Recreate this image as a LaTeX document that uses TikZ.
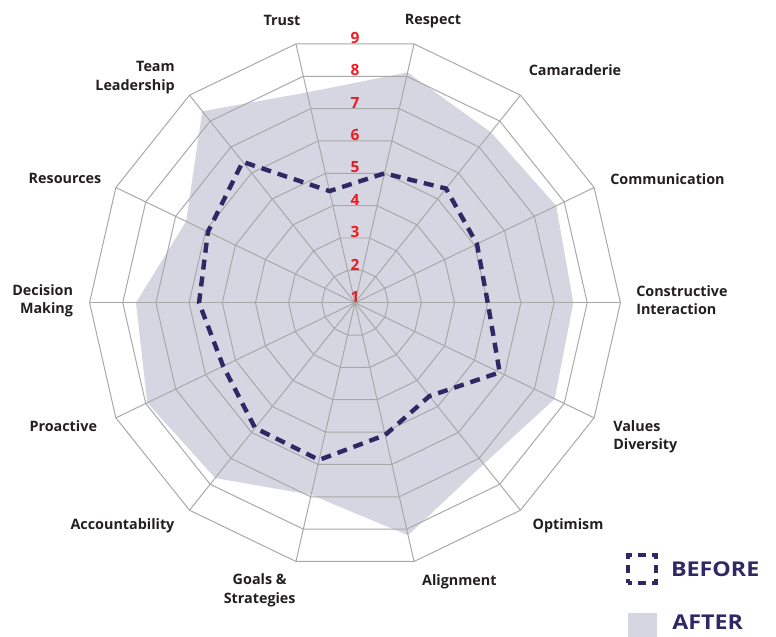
\documentclass[tikz,border=0pt]{standalone}
\usepackage{fontspec}
\setmainfont{Open Sans}
\newfontfamily\keyfont[FakeStretch=1.14]{Open Sans}
\usetikzlibrary{positioning}

\definecolor{gridgray}{RGB}{168,168,168}
\definecolor{afterlav}{RGB}{214,213,226}
\definecolor{beforeblue}{RGB}{46,40,100}
\definecolor{numred}{RGB}{237,28,36}
\definecolor{labelblack}{RGB}{35,31,32}

\begin{document}
\begin{tikzpicture}[
    x=0.025cm, y=0.025cm,
    grid/.style={draw=gridgray, line width=0.7pt},
    afterfill/.style={fill=afterlav},
    beforeline/.style={draw=beforeblue, line width=0.11cm, dash pattern=on 0.25cm off 0.175cm},
    num/.style={text=numred, font=\fontsize{11}{13}\selectfont\bfseries, inner sep=0pt, anchor=south},
    lab/.style={text=labelblack, font=\fontsize{10.2}{13.3}\selectfont\bfseries, inner sep=0pt},
    keytext/.style={text=beforeblue, font=\keyfont\fontsize{14.5}{16}\selectfont\bfseries, inner sep=0pt}
]
\def\r{33.18}
\useasboundingbox (-355,-334.3) rectangle (421,302.7);
\coordinate (c) at (0,0);

% After
\fill[afterfill] (0:{6.58*\r})
  \foreach \v [count=\k] in {7.73,7.57,8.12,7.5,8.38,6.65,7.6,7.95,7.76,6.94,8.19,7.22,7.68}
  { -- ({\k*360/14}:{(\v-1)*\r}) } -- cycle;

% Grille
\foreach \k in {1,...,8}
  \draw[grid] (0:{\k*\r}) \foreach \a in {1,...,13} { -- ({\a*360/14}:{\k*\r}) } -- cycle;
\foreach \a in {0,...,13} \coordinate (v\a) at ({\a*360/14}:{8*\r});
\foreach \a in {0,...,13} \draw[grid] (c) -- (v\a);

% Before
\draw[beforeline] (0:{4*\r})
  \foreach \v [count=\k] in {5.08,5.4,5.0,4.45,6.43,5.92,5.7,5.41,5.83,5.86,5.09,4.6,5.84}
  { -- ({\k*360/14}:{(\v-1)*\r}) } -- cycle;

% Echelle
\foreach \k in {1,...,9} \node[num] (n\k) at (0,{(\k-1)*\r*0.97493}) {\k};

% Axes
\node[lab] (trust) at (-73,282.7) {Trust};
\node[lab] (respect) at (78,281.5) {Respect};
\node[lab] (camaraderie) at (220,232.7) {Camaraderie};
\node[lab] (communication) at (312.5,123.7) {Communication};
\node[lab, align=left, anchor=west] (constructive) at (281,2.7) {Constructive\\Interaction};
\node[lab, align=left, anchor=west] (values) at (258,-134) {Values\\Diversity};
\node[lab] (optimism) at (213,-223.3) {Optimism};
\node[lab] (alignment) at (104.3,-279.5) {Alignment};
\node[lab, align=center] (goals) at (-95.3,-287.8) {Goals \&\\Strategies};
\node[lab] (accountability) at (-232.5,-223.3) {Accountability};
\node[lab] (proactive) at (-291.7,-123.3) {Proactive};
\node[lab, align=right, anchor=east] (decision) at (-281.7,1.9) {Decision\\Making};
\node[lab] (resources) at (-290,124.7) {Resources};
\node[lab, align=right, anchor=east] (team) at (-180,224.9) {Team\\Leadership};

% Legende
\node[draw=beforeblue, line width=0.1cm, dash pattern=on 0.2cm off 0.15cm, dash phase=0.1cm,
      minimum size=0.7cm, inner sep=0pt] (beforekey) at (287,-266.5) {};
\node[keytext, right=0.32cm of beforekey] (before) {BEFORE};
\node[fill=afterlav, minimum size=0.7cm, inner sep=0pt] (afterkey) at (287.5,-324.3) {};
\node[keytext, right=0.38cm of afterkey, yshift=0.13cm] (after) {AFTER};

\end{tikzpicture}
\end{document}
